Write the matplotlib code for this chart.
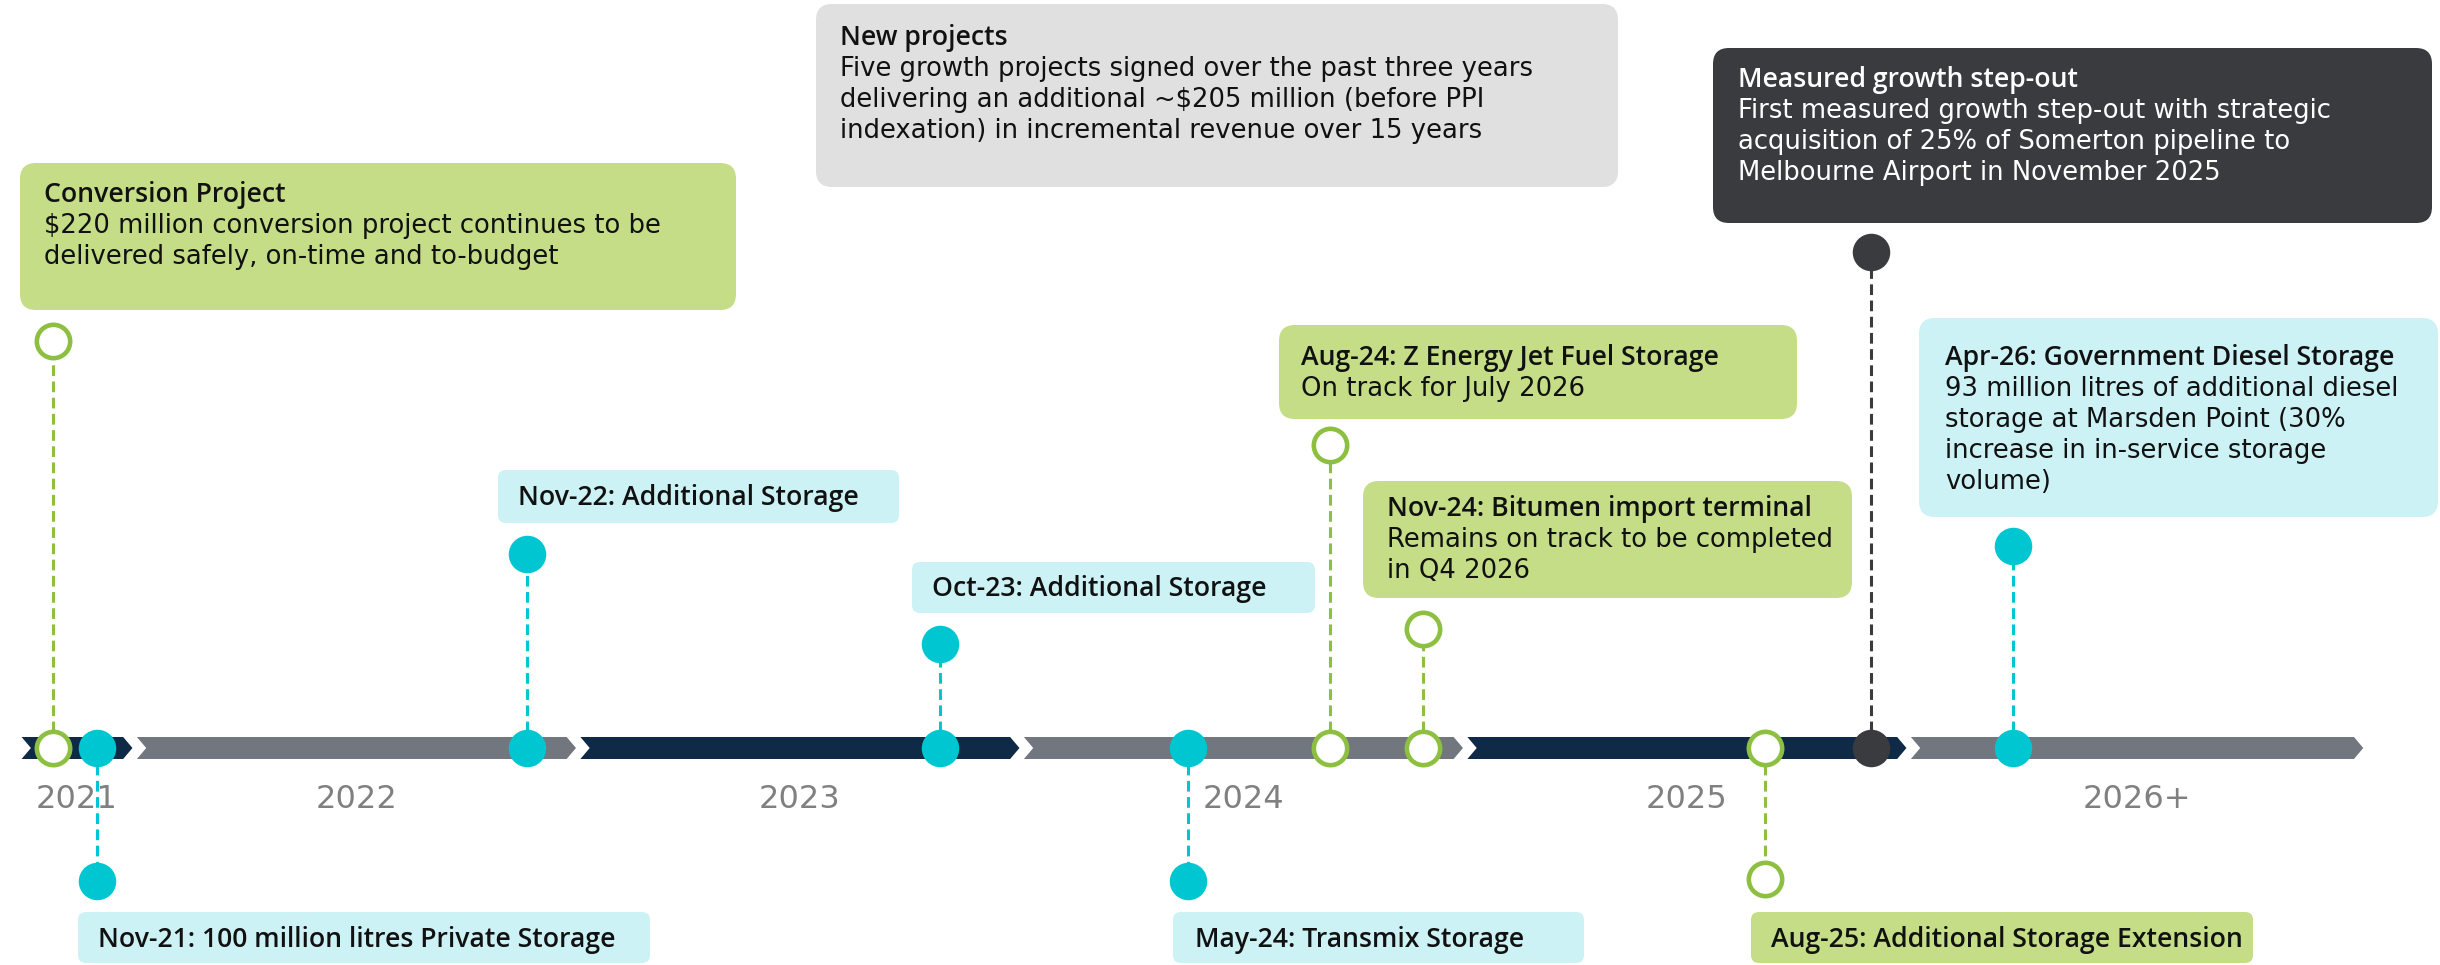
""" Growth projects timeline, 2021 to 2026+. """

import matplotlib
matplotlib.use("Agg")
import matplotlib.pyplot as plt
from matplotlib.patches import FancyBboxPatch, Polygon

plt.rcParams['font.family'] = ['DejaVu Sans']
TITLE_FONT = ['Open Sans', 'DejaVu Sans']

# year bands on the timeline (decimal years)
year_labels = ['2021', '2022', '2023', '2024', '2025', '2026+']
year_starts = [2021.74, 2022.0, 2023.0, 2024.0, 2025.0, 2026.0]
year_ends = [2021.99, 2022.99, 2023.99, 2024.99, 2025.99, 2027.02]

# milestones (decimal year of the marker on the bar)
event_dates = [2021.81, 2021.91, 2022.88, 2023.81, 2024.37,
               2024.69, 2024.90, 2025.67, 2025.91, 2026.23]
event_kinds = ['project', 'storage', 'storage', 'storage', 'storage',
               'project', 'project', 'project', 'stepout', 'storage']
event_titles = [
    'Conversion Project',
    'Nov-21: 100 million litres Private Storage',
    'Nov-22: Additional Storage',
    'Oct-23: Additional Storage',
    'May-24: Transmix Storage',
    'Aug-24: Z Energy Jet Fuel Storage',
    'Nov-24: Bitumen import terminal',
    'Aug-25: Additional Storage Extension',
    'Measured growth step-out',
    'Apr-26: Government Diesel Storage',
]
event_bodies = [
    ['$220 million conversion project continues to be',
     'delivered safely, on-time and to-budget'],
    [],
    [],
    [],
    [],
    ['On track for July 2026'],
    ['Remains on track to be completed', 'in Q4 2026'],
    [],
    ['First measured growth step-out with strategic',
     'acquisition of 25% of Somerton pipeline to',
     'Melbourne Airport in November 2025'],
    ['93 million litres of additional diesel',
     'storage at Marsden Point (30%',
     'increase in in-service storage',
     'volume)'],
]

note_title = 'New projects'
note_body = ['Five growth projects signed over the past three years',
             'delivering an additional ~$205 million (before PPI',
             'indexation) in incremental revenue over 15 years']

# layout (pixels from top-left of a 2440x965 canvas)
W, H = 2440, 965
BAR_Y = 748
BAR_HALF = 11
TIP = 0.021
LINE_GAP = 31
stem_ends = [341, 881, 554, 644, 881, 445, 629, 879, 252, 546]
event_boxes = [
    (20, 163, 716, 147), (78, 912, 572, 51), (498, 470, 401, 53),
    (912, 562, 403, 51), (1173, 912, 411, 51), (1279, 325, 518, 94),
    (1363, 481, 489, 117), (1751, 912, 502, 51), (1713, 48, 719, 175),
    (1919, 318, 519, 199),
]
# (left, baseline of first line)
event_text_pos = [
    (44, 202), (98, 947), (518, 505), (932, 596), (1195, 947),
    (1301, 365), (1387, 516), (1771, 947), (1738, 87), (1945, 365),
]
note_box = (816, 4, 802, 183)
note_text_pos = (840, 45)

NAVY = '#0f2a47'
BAR_GREY = '#72767e'
YEAR_GREY = '#808080'
kind_colors = {'storage': '#00c6d2', 'project': '#8dbf41', 'stepout': '#3a3b3f'}
box_colors = {'storage': '#ccf2f5', 'project': '#c4dd86', 'stepout': '#3a3b3f'}
text_colors = {'storage': '#111111', 'project': '#111111', 'stepout': '#ffffff'}


def draw_box(lay, box, face, title, body, tpos, tcolor):
    x, y, w, h = box
    r = 16 if h > 60 else 8
    lay.add_patch(FancyBboxPatch((x, y), w, h,
                                 boxstyle="round,pad=0,rounding_size={}".format(r),
                                 facecolor=face, edgecolor='none'))
    tx, ty = tpos
    lay.text(tx, ty, title, fontsize=19.2, fontweight='semibold', family=TITLE_FONT,
             color=tcolor, va='baseline', ha='left')
    for i, line in enumerate(body):
        lay.text(tx, ty + (i + 1) * LINE_GAP, line, fontsize=18.6,
                 color=tcolor, va='baseline', ha='left')


fig = plt.figure(figsize=(W / 100, H / 100), dpi=100)

# pixel layer for callout boxes
lay = fig.add_axes([0, 0, 1, 1])
lay.set_xlim(0, W)
lay.set_ylim(H, 0)
lay.axis('off')

# data layer: x in years, y in canvas pixels
ax = fig.add_axes([0, 0, 1, 1])
ax.set_xlim(2022 - 136.9 / 443.5, 2022 + (W - 136.9) / 443.5)
ax.set_ylim(H, 0)
ax.axis('off')
ax.patch.set_alpha(0)

for i, (x0, x1) in enumerate(zip(year_starts, year_ends)):
    color = NAVY if i % 2 == 0 else BAR_GREY
    pts = [(x0, BAR_Y - BAR_HALF), (x1 - TIP, BAR_Y - BAR_HALF), (x1, BAR_Y),
           (x1 - TIP, BAR_Y + BAR_HALF), (x0, BAR_Y + BAR_HALF), (x0 + TIP, BAR_Y)]
    ax.add_patch(Polygon(pts, closed=True, facecolor=color, edgecolor='none', zorder=1))
    ax.text((x0 + x1) / 2, 799, year_labels[i], fontsize=23, color=YEAR_GREY,
            ha='center', va='center')

for date, kind, yend in zip(event_dates, event_kinds, stem_ends):
    c = kind_colors[kind]
    ax.plot([date, date], [BAR_Y, yend], color=c, linewidth=2.2,
            linestyle=(0, (3.5, 1.8)), zorder=2)
    for yy in (BAR_Y, yend):
        if kind == 'project':
            ax.plot(date, yy, marker='o', markersize=24, markerfacecolor='white',
                    markeredgecolor=c, markeredgewidth=3.3, zorder=3)
        else:
            ax.plot(date, yy, marker='o', markersize=27, markerfacecolor=c,
                    markeredgecolor='none', zorder=3)

for i, kind in enumerate(event_kinds):
    draw_box(lay, event_boxes[i], box_colors[kind], event_titles[i],
             event_bodies[i], event_text_pos[i], text_colors[kind])

draw_box(lay, note_box, '#e0e0e0', note_title, note_body, note_text_pos, '#111111')

fig.savefig('out.png', dpi=100)
